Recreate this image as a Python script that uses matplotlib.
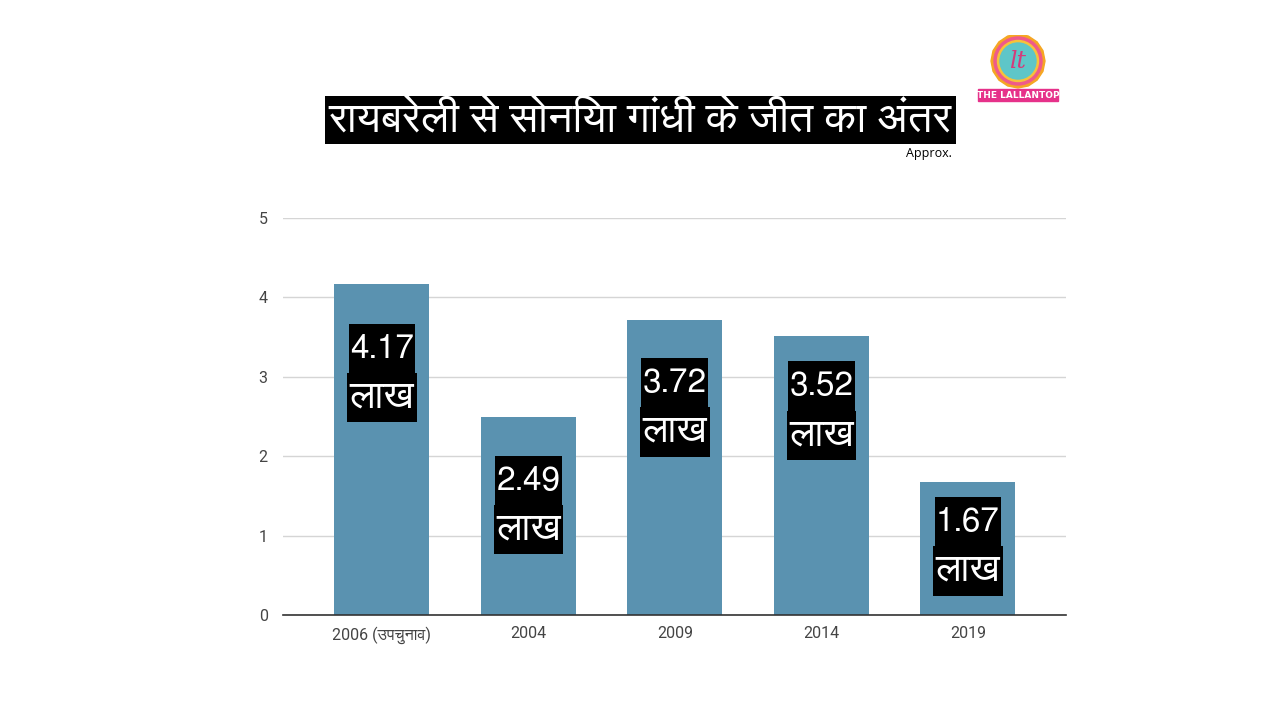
import matplotlib
matplotlib.use("Agg")
import matplotlib.pyplot as plt
from matplotlib import font_manager
from matplotlib.ft2font import FT2Font
from matplotlib.path import Path
from matplotlib.patches import Circle, Rectangle, RegularPolygon

categories = ["2006 (उपचुनाव)", "2004", "2009", "2014", "2019"]
values = [4.17, 2.49, 3.72, 3.52, 1.67]
value_labels = ["4.17", "2.49", "3.72", "3.52", "1.67"]
unit_label = "लाख"
yticks = [0, 1, 2, 3, 4, 5]
title = "रायबरेली से सोनिया गांधी के जीत का अंतर"
subtitle = "Approx."
# vertical anchor (data units) where the two label boxes meet, as placed in the original
label_anchor = [3.05, 1.39, 2.62, 2.58, 0.87]

# find a font that covers Devanagari
deva = None
for f in font_manager.fontManager.ttflist:
    try:
        cm = FT2Font(f.fname).get_charmap()
        if 0x0930 in cm and 0x093F in cm:
            deva = f.name
            if "Sans" in f.name:
                break
    except Exception:
        pass
fam = ([deva] if deva else []) + ["DejaVu Sans"]
tick_fam = ["Roboto"] + ([deva] if deva else []) + ["DejaVu Sans"]


def box(padx, pady):
    def style(x0, y0, width, height, mutation_size):
        px = padx * mutation_size
        py = pady * mutation_size
        x0, y0 = x0 - px, y0 - py
        x1, y1 = x0 + width + 2 * px, y0 + height + 2 * py
        return Path([(x0, y0), (x1, y0), (x1, y1), (x0, y1), (x0, y0)], closed=True)
    return style


fig = plt.figure(figsize=(12.8, 7.2), dpi=100)
ax = fig.add_axes([283/1280, 105/720, (1066-283)/1280, 397/720])

bar_color = "#5a92b0"
x = list(range(len(categories)))
ax.bar(x, values, width=0.65, color=bar_color, zorder=2)
ax.set_xlim(-0.675, 4.67)
ax.set_ylim(0, 5)
ax.set_yticks(yticks)
ax.set_xticks(x)
ax.set_xticklabels(categories, family=tick_fam, fontsize=11.5, color="#444444")
for t in ax.get_yticklabels():
    t.set_family(tick_fam)
    t.set_fontsize(11.5)
    t.set_color("#444444")
ax.tick_params(axis="both", length=0)
ax.tick_params(axis="y", pad=11)
ax.tick_params(axis="x", pad=8)
ax.grid(axis="y", color="#d5d5d5", linewidth=1, zorder=0)
for s in ["top", "right", "left"]:
    ax.spines[s].set_visible(False)
ax.spines["bottom"].set_color("#333333")
ax.spines["bottom"].set_linewidth(1.2)
ax.spines["bottom"].set_zorder(3)

for xi, yl, lab in zip(x, label_anchor, value_labels):
    ax.annotate(lab, xy=(xi, yl), xytext=(0, 17), textcoords="offset points",
                ha="center", va="center", color="white", fontsize=24,
                family=fam, zorder=4,
                bbox=dict(boxstyle=box(0.04, 0.3), fc="black", ec="none"))
    ax.annotate(unit_label, xy=(xi, yl), xytext=(0, -18), textcoords="offset points",
                ha="center", va="center", color="white", fontsize=28,
                family=fam, zorder=4,
                bbox=dict(boxstyle=box(0.06, 0.17), fc="black", ec="none"))

# title
fig.text(640/1280, 1 - 120/720, title, ha="center", va="center", color="white",
         fontsize=31, family=fam,
         bbox=dict(boxstyle="square,pad=0.09", fc="black", ec="none"))
fig.text(952/1280, 1 - 153/720, subtitle, ha="right", va="center", color="black",
         fontsize=9, family=["Open Sans", "DejaVu Sans"])

# logo
lax = fig.add_axes([975/1280, 1 - 103/720, 85/1280, 68/720])
lax.set_xlim(0, 85)
lax.set_ylim(0, 68)
lax.set_aspect("equal")
lax.axis("off")
lax.add_patch(RegularPolygon((43, 42), numVertices=16, radius=27, color="#f5a623"))
lax.add_patch(Circle((43, 42), 24, color="#ef5a8a"))
lax.add_patch(Circle((43, 42), 20.5, color="#f7c23a"))
lax.add_patch(Circle((43, 42), 18, color="#5ec6c8"))
lax.text(43, 42, "lt", ha="center", va="center", color="#d63a7a", fontsize=17,
         fontstyle="italic", family="DejaVu Serif")
lax.add_patch(Rectangle((3, 2), 80, 12, color="#e6318a"))
lax.text(43, 8, "THE LALLANTOP", ha="center", va="center", color="white",
         fontsize=6.5, fontweight="bold", family="DejaVu Sans")

fig.savefig("out.png", dpi=100)
